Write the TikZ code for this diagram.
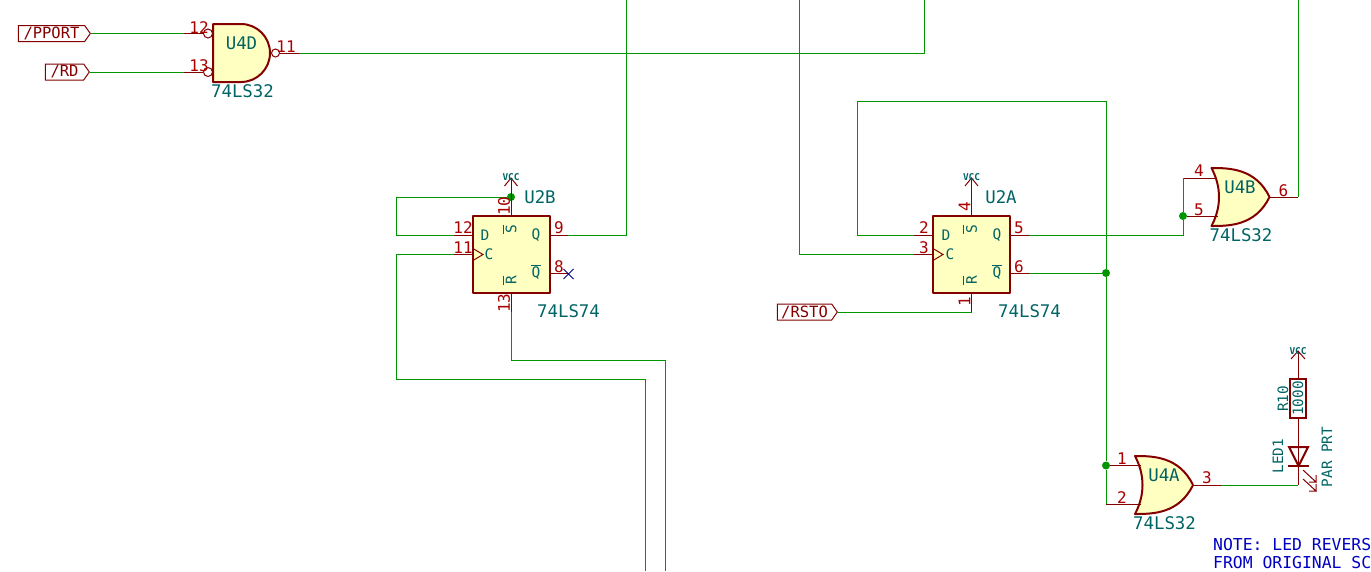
\documentclass[tikz,border=0pt]{standalone}
\usepackage{fontspec}
\setmainfont{DejaVu Sans Mono}
\usetikzlibrary{positioning,calc,shapes.symbols,arrows.meta}
\definecolor{wirecol}{RGB}{0,150,0}
\definecolor{pincol}{RGB}{132,0,0}
\definecolor{numcol}{RGB}{169,0,0}
\definecolor{fillcol}{RGB}{255,255,194}
\definecolor{refcol}{RGB}{0,100,100}
\definecolor{notecol}{RGB}{0,0,194}
\definecolor{nccol}{RGB}{0,0,132}
\tikzset{
    wire/.style={wirecol, line width=1pt},
    pin/.style={pincol, line width=1pt},
    body/.style={pincol, line width=2pt, fill=fillcol, line join=round},
    ffbox/.style={body, draw, minimum width=77pt, minimum height=77pt, inner sep=0pt},
    bubble/.style={circle, draw=pincol, line width=1pt, fill=white, minimum size=9pt, inner sep=0pt},
    junction/.style={circle, fill=wirecol, minimum size=8pt, inner sep=0pt},
    netlabel/.style={signal, signal to=east, draw=pincol, line width=1pt, fill=white, text=pincol,
        font=\fontsize{15.5}{15.5}\selectfont, inner sep=0pt, minimum height=16pt, signal pointer angle=110},
    pinnum/.style={numcol, font=\fontsize{16}{16}\selectfont, inner sep=0pt},
    refname/.style={refcol, font=\fontsize{17.4}{17.4}\selectfont, inner sep=0pt},
    sidename/.style={refcol, font=\fontsize{14.3}{14.3}\selectfont, inner sep=0pt, rotate=90},
    pinname/.style={refcol, font=\fontsize{14.5}{14.5}\selectfont, inner sep=0pt},
    vccname/.style={refcol, font=\fontsize{9.4}{9.4}\selectfont\bfseries, inner sep=0pt},
    note/.style={notecol, font=\fontsize{16.4}{16.4}\selectfont, inner sep=0pt, anchor=base west},
    orgate/.pic={
        \path[body,draw] (-29,-29) .. controls (-12,-29) and (15,-29) .. (29,0)
            .. controls (15,29) and (-12,29) .. (-29,29)
            .. controls (-19,10) and (-19,-10) .. cycle;
    },
}
\begin{document}
\begin{tikzpicture}[x=1pt,y=-1pt]
\useasboundingbox (0,0) rectangle (1371,571);

% sheet edges
\coordinate (topA) at (626,0);
\coordinate (topB) at (799,0);
\coordinate (topC) at (924,0);
\coordinate (topD) at (1298,0);
\coordinate (botA) at (645.5,571);
\coordinate (botB) at (665,571);

% U4D
\draw[body] (213,24) -- (241,24) arc (-90:90:29) -- (213,82) -- cycle;
\node[refname] (U4Dref) at (241.5,43.5) {U4D};
\node[refname] (U4Dvalue) at (242.5,91) {74LS32};
\node[bubble] (U4Da) at (208,33.5) {};
\node[bubble] (U4Db) at (208,72) {};
\node[bubble, minimum size=8pt] (U4Dy) at (275.5,53) {};
\node[netlabel, minimum width=72pt] (pport) at (51.5,33.5) {/PPORT};
\node[netlabel, minimum width=44pt] (rd) at (64.5,72) {/RD};
\coordinate (p12) at (184,33.5);
\coordinate (p13) at (184,72);
\coordinate (p11) at (299,53);
\draw[wire] (pport.east) -- (p12);
\draw[wire] (rd.east) -- (p13);
\draw[pin] (p12) -- (U4Da.west);
\draw[pin] (p13) -- (U4Db.west);
\draw[pin] (U4Dy.east) -- (p11);
\draw[wire] (p11) -| (topC);
\node[pinnum] at (199,27.5) {12};
\node[pinnum] at (199,66) {13};
\node[pinnum] at (286,46.5) {11};

% U2B
\node[ffbox] (U2B) at (511,254.5) {};
\coordinate (U2Bd) at (473,235.5);
\coordinate (U2Bc) at (473,254.5);
\coordinate (U2Bq) at (549,235.5);
\coordinate (U2Bn) at (549,273.5);
\coordinate (U2Bs) at (511,216);
\coordinate (U2Br) at (511,293);
\coordinate (p12b) at (454,235.5);
\coordinate (p11b) at (454,254.5);
\coordinate (p9) at (568,235.5);
\coordinate (p8) at (568,273.5);
\coordinate (p13b) at (511,312);
\coordinate (vccB) at (511,178);
\node[junction] (jB) at (511,197) {};
\draw[pin] (U2Bd) -- (p12b);
\draw[pin] (U2Bc) -- (p11b);
\draw[pin] (U2Bq) -- (p9);
\draw[pin] (U2Bn) -- (p8);
\draw[pin] (U2Br) -- (p13b);
\draw[pin] (U2Bs) -- (vccB);
\draw[pin] (504.5,186) -- (vccB) -- (517.5,186);
\draw[pin] (473,248.5) -- (483,254.5) -- (473,260.5);
\draw[wire] (jB) -- (396,197) |- (p12b);
\draw[wire] (p11b) -- (396,254.5) |- (645.5,379.5) -- (botA);
\draw[wire] (p13b) |- (665,360) -- (botB);
\draw[wire] (p9) -| (topA);
\draw[nccol, line width=1pt] (563.5,269) -- (573.5,279) (563.5,279) -- (573.5,269);
\node[vccname] at (511,177) {VCC};
\node[refname] at (540,197) {U2B};
\node[refname] at (568.5,311) {74LS74};
\node[pinname] at (485,235.5) {D};
\node[pinname] at (489,254.5) {C};
\node[pinname] at (536,235.5) {Q};
\node[pinname] at (536,273.5) {Q};
\draw[refcol, line width=1pt] (531,265.5) -- (541,265.5);
\node[pinname, rotate=90] at (511,229) {S};
\node[pinname, rotate=90] at (511,280) {R};
\draw[refcol, line width=1pt] (503,224.5) -- (503,233.5) (503,275.5) -- (503,284.5);
\node[pinnum] at (463,228) {12};
\node[pinnum] at (463,248) {11};
\node[pinnum] at (559,228) {9};
\node[pinnum] at (559,267) {8};
\node[pinnum, rotate=90] at (504,206) {10};
\node[pinnum, rotate=90] at (504,303) {13};

% U2A
\node[ffbox] (U2A) at (971.5,254.5) {};
\coordinate (U2Ad) at (933,235.5);
\coordinate (U2Ac) at (933,254.5);
\coordinate (U2Aq) at (1010,235.5);
\coordinate (U2An) at (1010,273);
\coordinate (U2As) at (971.5,216);
\coordinate (U2Ar) at (971.5,293);
\coordinate (p2) at (914,235.5);
\coordinate (p3) at (914,254.5);
\coordinate (p5) at (1029,235.5);
\coordinate (p6) at (1029,273);
\coordinate (p1) at (971.5,312);
\coordinate (vccA) at (971.5,178);
\draw[pin] (U2Ad) -- (p2);
\draw[pin] (U2Ac) -- (p3);
\draw[pin] (U2Aq) -- (p5);
\draw[pin] (U2An) -- (p6);
\draw[pin] (U2Ar) -- (p1);
\draw[pin] (U2As) -- (vccA);
\draw[pin] (965,186) -- (vccA) -- (978,186);
\draw[pin] (933,248.5) -- (943,254.5) -- (933,260.5);
\node[netlabel, minimum width=60pt] (rsto) at (804.5,312) {/RSTO};
\draw[wire] (rsto.east) -- (p1);
\draw[wire] (p3) -| (topB);
\node[vccname] at (971.5,177) {VCC};
\node[refname] at (1001,197) {U2A};
\node[refname] at (1029.5,311) {74LS74};
\node[pinname] at (946,235.5) {D};
\node[pinname] at (950,254.5) {C};
\node[pinname] at (997,235.5) {Q};
\node[pinname] at (997,273.5) {Q};
\draw[refcol, line width=1pt] (992,265.5) -- (1002,265.5);
\node[pinname, rotate=90] at (971.5,229) {S};
\node[pinname, rotate=90] at (971.5,280) {R};
\draw[refcol, line width=1pt] (963.5,224.5) -- (963.5,233.5) (963.5,275.5) -- (963.5,284.5);
\node[pinnum] at (924,228) {2};
\node[pinnum] at (924,247.5) {3};
\node[pinnum] at (1019,228) {5};
\node[pinnum] at (1019,266.5) {6};
\node[pinnum, rotate=90] at (964.5,207) {4};
\node[pinnum, rotate=90] at (964.5,302) {1};

% U4B
\pic at (1240.5,197) {orgate};
\node[refname] at (1240,187.5) {U4B};
\node[refname] at (1241,235) {74LS32};
\coordinate (p4) at (1183,178);
\coordinate (p5b) at (1183,216);
\coordinate (p6b) at (1298,197);
\node[junction] (jC) at (1183,216) {};
\draw[pin] (p4) -- (1217,178);
\draw[pin] (jC) -- (1218,216);
\draw[pin] (1270,197) -- (p6b);
\draw[wire] (p5) -| (jC);
\draw[wire] (jC) -- (p4);
\draw[wire] (p6b) -- (topD);
\node[pinnum] at (1199,171) {4};
\node[pinnum] at (1199,209.5) {5};
\node[pinnum] at (1283.5,190.5) {6};

% U4A
\pic at (1164,485) {orgate};
\node[refname] at (1164,475.5) {U4A};
\node[refname] at (1164.5,523) {74LS32};
\node[junction] (jD) at (1106,273) {};
\node[junction] (jE) at (1106,465.5) {};
\coordinate (p2a) at (1106,504);
\coordinate (p3a) at (1221,485);
\coordinate (loop) at (1106,101);
\draw[wire] (p2) -- (857,235.5) |- (loop) -- (jD) -- (jE) -- (p2a);
\draw[wire] (p6) -- (jD);
\draw[pin] (jE) -- (1141,465.5);
\draw[pin] (p2a) -- (1141,504);
\draw[pin] (1193,485) -- (p3a);
\node[pinnum] at (1122,459) {1};
\node[pinnum] at (1122,498) {2};
\node[pinnum] at (1207,478) {3};

% R10, LED1
\node[draw=pincol, line width=2pt, minimum width=16pt, minimum height=39pt, inner sep=0pt] (R10) at (1298,398.5) {};
\node[sidename] at (1298,398.5) {1000};
\node[sidename] at (1283,399) {R10};
\coordinate (vccR) at (1298,351);
\coordinate (ledk) at (1298,485);
\draw[pin] (R10.north) -- (vccR);
\draw[pin] (1291,359) -- (vccR) -- (1305,359);
\draw[pin] (R10.south) -- (ledk);
\draw[wire] (p3a) -- (ledk);
\draw[pincol, line width=2pt] (1289,447) -- (1308,447) -- (1298.5,466) -- cycle;
\draw[pincol, line width=2pt] (1288,466) -- (1309,466);
\draw[pin] (1303,470) -- (1316,482) -- (1316,475) (1316,482) -- (1309,482);
\draw[pin] (1303,479) -- (1316,491) -- (1316,484) (1316,491) -- (1309,491);
\node[vccname] at (1298,351) {VCC};
\node[sidename] at (1278,456) {LED1};
\node[sidename] at (1327,457) {PAR PRT};

% note
\node[note] at (1213,550) {NOTE: LED REVERS};
\node[note] at (1213,568) {FROM ORIGINAL SC};
\end{tikzpicture}
\end{document}
